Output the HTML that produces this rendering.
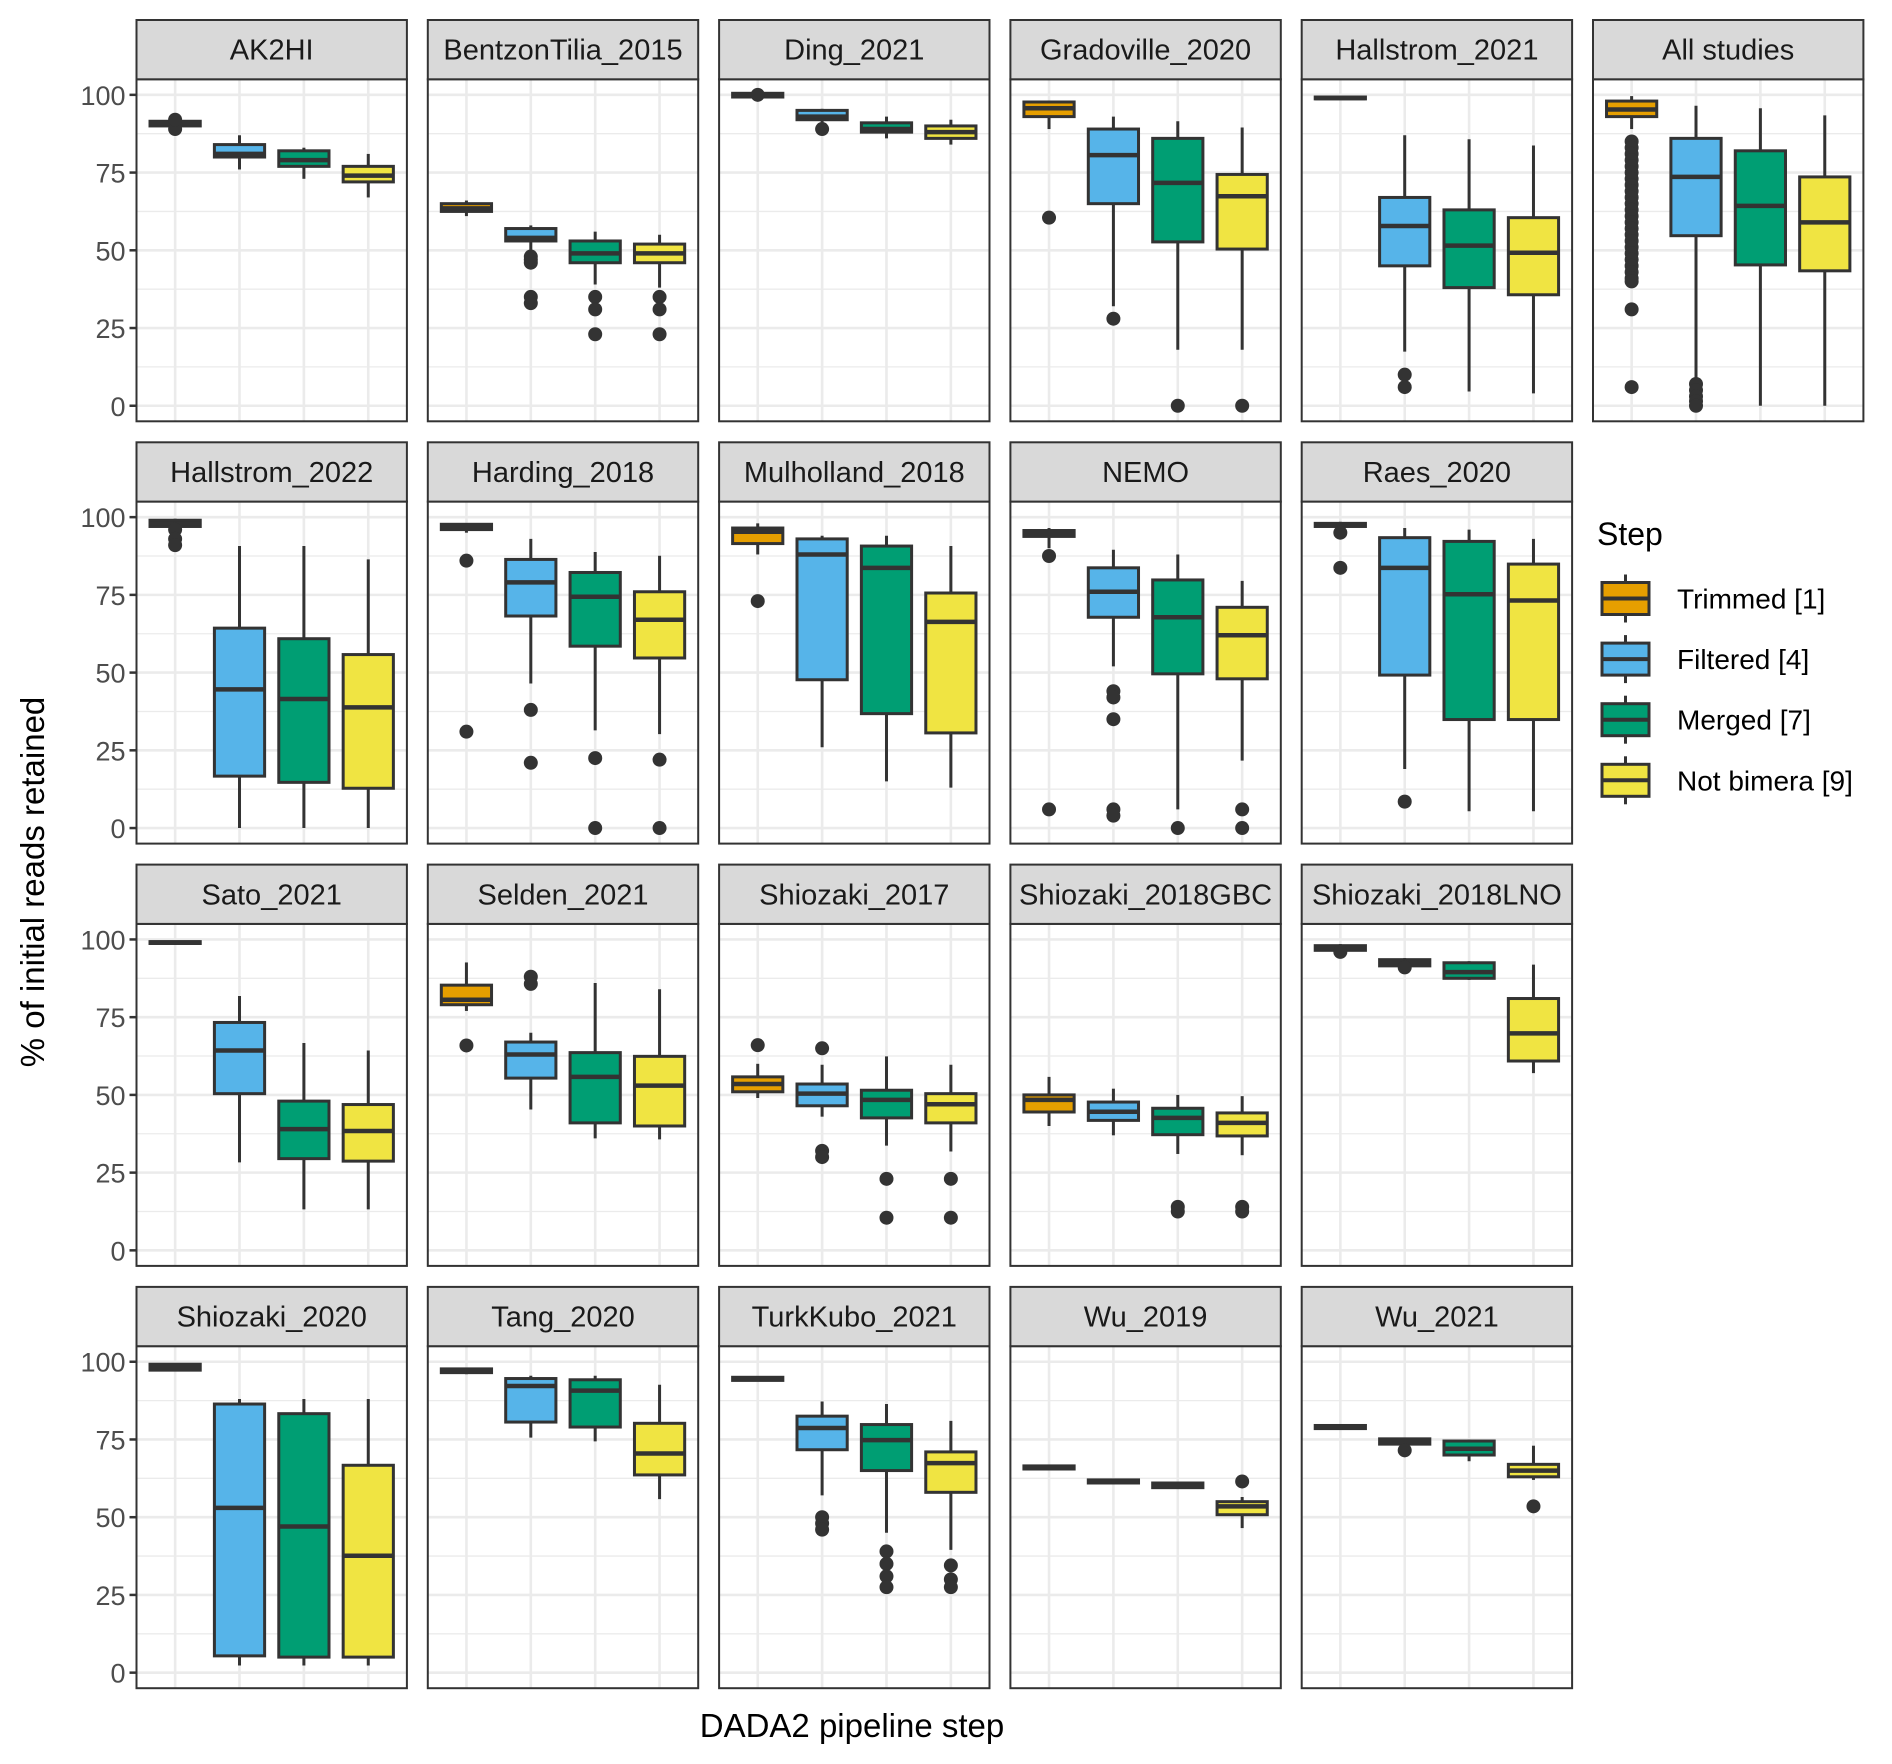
<!DOCTYPE html>
<html><head><meta charset="utf-8"><style>
html,body{margin:0;padding:0;background:#fff;}
svg{display:block;font-family:"Liberation Sans",Arial,sans-serif;}
</style></head><body>
<svg id="chart" width="1892" height="1764" viewBox="0 0 1892 1764" xmlns="http://www.w3.org/2000/svg">
<g id="panels"></g>
<text x="0" y="0" transform="translate(44,882) rotate(-90)" text-anchor="middle" font-size="33" fill="#000">% of initial reads retained</text>
<text x="852" y="1737" text-anchor="middle" font-size="33" fill="#000">DADA2 pipeline step</text>
<g id="legend"></g>
</svg>
<script>
const panelNames = ["AK2HI","BentzonTilia_2015","Ding_2021","Gradoville_2020","Hallstrom_2021","All studies",
 "Hallstrom_2022","Harding_2018","Mulholland_2018","NEMO","Raes_2020",
 "Sato_2021","Selden_2021","Shiozaki_2017","Shiozaki_2018GBC","Shiozaki_2018LNO",
 "Shiozaki_2020","Tang_2020","TurkKubo_2021","Wu_2019","Wu_2021"];
const steps = ["Trimmed [1]","Filtered [4]","Merged [7]","Not bimera [9]"];
const stepColors = ["#E69F00","#56B4E9","#009E73","#F0E442"];
const yTicks = [0,25,50,75,100];
// each box: [lowWhisker, q1, median, q3, highWhisker]
const boxStats = [
 [[89,90,91,91.5,92],[76,80,81,84,87],[73,77,79,82,83],[67,72,74,77,81]],
 [[61,62.5,63.5,65,66],[50,53,54,57,58],[39,46,49,53,56],[38,46,49,52,55]],
 [[99,99.3,100,100.5,100.7],[90,92,93,95,95.5],[86,88,89,91,93],[84,86,88,90,92]],
 [[89,93,95.7,97.7,98],[32,65,80.6,89,93],[18,52.7,71.7,86,91.5],[18,50.4,67.4,74.4,89.5]],
 [[98.5,98.7,99,99.3,99.5],[17.4,45,57.8,67,87],[4.6,38,51.5,63,85.7],[4,35.7,49.2,60.5,83.7]],
 [[89,93,95.3,98,99.6],[9,54.7,73.6,86,96.5],[0,45.3,64.3,82,95.7],[0,43.4,59,73.6,93.4]],
 [[94,97,98,99,99.5],[0,16.7,44.6,64.3,90.7],[0,14.7,41.5,60.9,90.7],[0,12.8,38.8,55.8,86.4]],
 [[95,96,96.9,97.7,98],[46.5,68.2,79,86.4,93],[31.4,58.5,74.4,82.2,88.8],[30.2,54.7,67,76,87.6]],
 [[88,91.5,95.3,96.5,98],[26,47.7,88,93,94],[15,36.8,83.7,90.7,94],[13,30.6,66.3,75.6,90.7]],
 [[90,93.8,95,95.7,96.5],[52,67.8,76,83.7,89.5],[6,49.6,67.8,79.8,88],[21.7,48,62,71,79.5]],
 [[96.5,97,97.7,98,98.5],[19,49.2,83.7,93.4,96.5],[5.4,34.9,75.2,92.2,96],[5.4,34.9,73.2,84.9,93]],
 [[98.5,98.7,99,99.3,99.5],[28.3,50.4,64.3,73.3,81.8],[13.2,29.5,39,48,66.7],[13.2,28.7,38.4,46.9,64.3]],
 [[77,79,80.6,85.3,92.6],[45.3,55.4,63,67,70],[36,41,55.8,63.6,86],[35.7,40,53,62.4,84]],
 [[49,51,53.5,55.8,60],[43,46.5,50.4,53.5,59.7],[33.7,42.6,48.4,51.5,62.4],[31.8,41,47,50.4,59.7]],
 [[40,44.5,48.4,50,55.8],[37,41.8,44.6,47.7,52],[31,37.2,42.6,45.7,50],[30.6,36.8,41,44.2,49.6]],
 [[95.5,96.5,97.2,98,98.5],[90.5,91.5,92.5,93.5,94],[87,87.5,89.5,92.5,93],[57,60.9,69.8,81,91.9]],
 [[97,97.3,98.4,99.2,99.5],[2.3,5.4,53,86.4,88],[2.3,5,47,83.3,88],[2.3,5,37.6,66.7,88]],
 [[96,96.5,97,97.7,98],[75.6,80.6,92.2,94.6,95.5],[74.4,79,90.7,94.2,95.5],[55.8,63.6,70.5,80.2,92.6]],
 [[93.8,94,94.5,95,95.2],[57,71.7,78.7,82.5,87.2],[45,65,74.8,79.8,86.4],[39.5,58,67.4,71,81]],
 [[65.3,65.5,66,66.5,66.7],[60.7,61,61.5,62,62.3],[59.2,59.5,60,61,61.3],[46.5,50.8,53.5,55,56.5]],
 [[78.3,78.5,79,79.5,79.7],[72.5,73.5,74.6,75.2,75.5],[68,70,72,74.5,75],[62,63,65,67,73]]
];
const outliers = [
 [[89,92],[],[],[]],
 [[],[46,47,48,33,35],[35,31,23],[35,31,23]],
 [[100],[89],[],[]],
 [[60.5],[28],[0],[0]],
 [[],[10,6],[],[]],
 [[85,83,81,79,77,75,73,71,69,67,65,63,61,59,57,55,53,51,49,47,45,43,41,40,31,6],[7,5,3,1.5,0],[],[]],
 [[96,93,91],[],[],[]],
 [[86,31],[38,21],[22.5,0],[22,0]],
 [[73],[],[],[]],
 [[87.5,6],[44,42,35,6,4],[0],[6,0]],
 [[95,83.7],[8.5],[],[]],
 [[],[],[],[]],
 [[65.9],[88,85.7],[],[]],
 [[66],[65,32,30],[23,10.5],[23,10.5]],
 [[],[],[14,12.5],[14,12.5]],
 [[96],[91],[],[]],
 [[],[],[],[]],
 [[],[],[],[]],
 [[],[50,48,46],[39,35,31,27.5],[34.5,30,27.5]],
 [[],[],[],[61.5]],
 [[],[71.5],[],[53.5]]
];

const NS = "http://www.w3.org/2000/svg";
function mk(tag, attrs, parent){const e=document.createElementNS(NS,tag);for(const k in attrs)e.setAttribute(k,attrs[k]);parent.appendChild(e);return e;}
const PW=270.4, PITCH_X=291.3, LEFT0=136.5, STRIP_H=59.3, PANEL_H=342, PITCH_Y=422.3, TOP0=20;
const YMIN=-5, YMAX=105;
function panelPos(i){ if(i<6) return [0,i]; const j=i-6; return [1+Math.floor(j/5), j%5]; }
function yScale(v, top){ return top + PANEL_H - (v-YMIN)/(YMAX-YMIN)*PANEL_H; }
function xScale(k, left){ return left + (k+0.6)*PW/4.2; }
const root=document.getElementById('panels');
panelNames.forEach((name,i)=>{
 const [r,c]=panelPos(i);
 const left=LEFT0+c*PITCH_X, stripTop=TOP0+r*PITCH_Y, top=stripTop+STRIP_H;
 const g=mk('g',{},root);
 
 
 mk('rect',{x:left,y:top,width:PW,height:PANEL_H,fill:'#fff'},g);
 for(let v=-12.5; v<=112.5; v+=25){ if(v<YMIN||v>YMAX) continue; const y=yScale(v,top);
  mk('line',{x1:left,x2:left+PW,y1:y,y2:y,stroke:'#ebebeb','stroke-width':1.3},g); }
 yTicks.forEach(t=>{const y=yScale(t,top); mk('line',{x1:left,x2:left+PW,y1:y,y2:y,stroke:'#ebebeb','stroke-width':2.6},g);});
 for(let k=0;k<4;k++){const x=xScale(k,left); mk('line',{x1:x,x2:x,y1:top,y2:top+PANEL_H,stroke:'#ebebeb','stroke-width':2.6},g);}
 const bw=0.78*PW/4.2;
 for(let k=0;k<4;k++){
  const s=boxStats[i][k], x=xScale(k,left);
  const bg=mk('g',{},g);
  
  
  mk('line',{x1:x,x2:x,y1:yScale(s[0],top),y2:yScale(s[4],top),stroke:'#333','stroke-width':3},bg);
  const y3=yScale(s[3],top), y1=yScale(s[1],top);
  mk('rect',{x:x-bw/2,y:y3,width:bw,height:Math.max(0.5,y1-y3),fill:stepColors[k],stroke:'#333','stroke-width':3},bg);
  const ym=yScale(s[2],top);
  mk('line',{x1:x-bw/2,x2:x+bw/2,y1:ym,y2:ym,stroke:'#333','stroke-width':4.5},bg);
  outliers[i][k].forEach(o=>{ const c=mk('circle',{cx:x,cy:yScale(o,top),r:7,fill:'#333'},bg);
   
    });
 }
 mk('rect',{x:left,y:top,width:PW,height:PANEL_H,fill:'none',stroke:'#333','stroke-width':2},g);
 mk('rect',{x:left,y:stripTop,width:PW,height:STRIP_H,fill:'#d9d9d9',stroke:'#333','stroke-width':2},g);
 const st=mk('text',{x:left+PW/2,y:stripTop+STRIP_H/2+10,'text-anchor':'middle','font-size':29,fill:'#1a1a1a'},g);
 st.textContent=name;
 
 
 if(c===0){ yTicks.forEach(t=>{const y=yScale(t,top);
  mk('line',{x1:left-7,x2:left,y1:y,y2:y,stroke:'#333','stroke-width':2.5},g);
  const tl=mk('text',{x:left-11,y:y+10,'text-anchor':'end','font-size':27,fill:'#4d4d4d'},g);
  tl.textContent=t;
  
  
 });}
});
const lg=document.getElementById('legend');
const lt=mk('text',{x:1597,y:545,'font-size':32,fill:'#000'},lg); lt.textContent='Step';


steps.forEach((s,k)=>{
 const cy=598.5+k*60.6;
 const eg=mk('g',{},lg);
 
 
 mk('line',{x1:1625.5,x2:1625.5,y1:cy-24,y2:cy+24,stroke:'#333','stroke-width':3},eg);
 mk('rect',{x:1602,y:cy-16,width:47,height:32,fill:stepColors[k],stroke:'#333','stroke-width':3},eg);
 mk('line',{x1:1602,x2:1649,y1:cy,y2:cy,stroke:'#333','stroke-width':4},eg);
 const t=mk('text',{x:1677,y:cy+10,'font-size':28,fill:'#000'},eg); t.textContent=s;
});
</script>
</body></html>
